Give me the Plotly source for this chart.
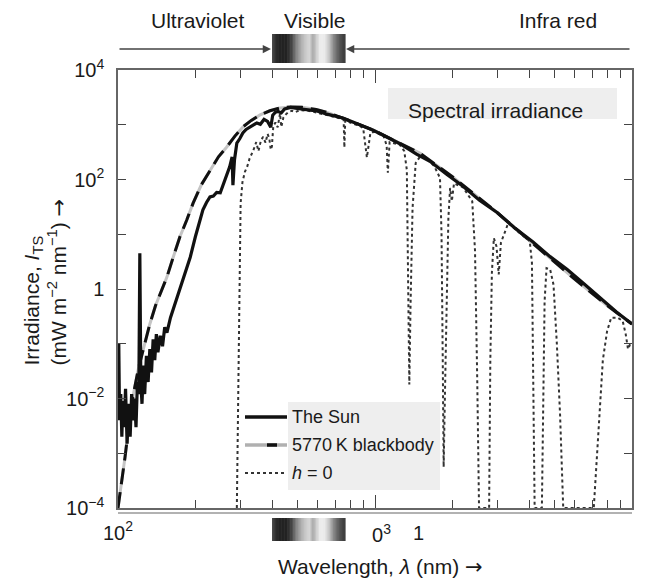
import plotly.graph_objects as go

# ---------------- data ----------------
sun_wavelength = [100, 100.7, 101.4, 102.5, 103.5, 104.5, 105.5, 107, 108.5, 110, 111.5, 113, 114.5,
                  116, 117.5, 119, 120.5, 121.6, 122.7, 124, 125.5, 127, 129, 131, 133, 135, 137, 139,
                  141, 143, 146, 149, 152, 155, 160, 167, 174, 182, 191, 200, 207, 214, 221, 228, 235,
                  242, 250, 258, 265, 272, 278, 280, 284, 290, 298, 306, 315, 325, 335, 347, 358, 370,
                  382, 393, 400, 410, 420, 432, 445, 455, 470, 490, 520, 560, 594, 650, 750, 850, 980,
                  1100, 1250, 1450, 1636, 1900, 2200, 2550, 2985, 3500, 4120, 4800, 5585, 6500, 7500,
                  8700, 10000]
sun_irradiance = [0.005, 0.1, 0.004, 0.012, 0.002, 0.009, 0.003, 0.015, 0.0015, 0.008, 0.002, 0.012,
                  0.004, 0.01, 0.003, 0.02, 0.012, 4.5, 0.02, 0.008, 0.04, 0.012, 0.06, 0.02, 0.08,
                  0.03, 0.12, 0.05, 0.15, 0.07, 0.14, 0.09, 0.2, 0.16, 0.3, 0.55, 0.96, 1.9, 3.8, 9,
                  17, 28, 38, 48, 50, 58, 57, 85, 111, 170, 258, 79, 230, 464, 560, 707, 820, 900,
                  1000, 1080, 1020, 1250, 1150, 900, 1500, 1700, 1750, 1650, 1950, 2020, 2080, 2000,
                  1950, 1850, 1780, 1560, 1330, 1060, 800, 610, 450, 290, 215, 125, 75, 42, 25, 13,
                  7.2, 3.9, 2.3, 1.25, 0.7, 0.38, 0.23]

bb_wavelength = [100, 103.6, 106.5, 110, 114.4, 120, 125, 133, 140, 147, 155, 164, 174, 185, 196, 211,
                 228, 246, 265, 285, 306, 330, 357, 390, 427, 470, 520, 590, 660, 750, 860, 1000,
                 1200, 1500, 2000, 2500, 3000, 4000, 5000, 6000, 8000, 10000]
bb_irradiance = [1e-4, 3.2e-4, 8.5e-4, 3e-3, 0.011, 0.035, 0.078, 0.23, 0.5, 0.9, 1.65, 3.8, 8.9, 18,
                 37, 80, 148, 260, 393, 620, 910, 1200, 1510, 1800, 2020, 2120, 2080, 1900, 1650,
                 1330, 1030, 770, 510, 300, 112, 48, 24.5, 7.6, 3.1, 1.5, 0.5, 0.23]

sea_wavelength = [290, 292, 294, 296, 298, 300, 305, 312, 318, 325, 336, 345, 352, 360, 367, 375, 382,
                  388, 393, 397, 402, 410, 418, 427, 432, 440, 450, 460, 475, 490, 510, 550, 600, 680,
                  740, 755, 760, 766, 800, 880, 900, 930, 960, 1000, 1080, 1110, 1122, 1140, 1250,
                  1300, 1330, 1345, 1360, 1375, 1400, 1440, 1500, 1600, 1700, 1790, 1815, 1835, 1850,
                  1870, 1900, 1930, 1960, 1990, 2030, 2200, 2390, 2450, 2500, 2540, 2780, 2810, 2850,
                  2900, 2970, 3030, 3090, 3300, 3700, 4000, 4080, 4130, 4180, 4460, 4510, 4570, 4650,
                  4800, 4950, 5100, 5250, 5400, 7100, 7400, 7700, 8000, 8300, 8800, 9200, 9450, 9650,
                  9850, 10000]
sea_irradiance = [1e-4, 1e-3, 0.03, 0.5, 8, 37, 90, 140, 170, 240, 340, 480, 330, 520, 600, 470, 680,
                  560, 350, 400, 950, 1100, 900, 1600, 910, 1350, 1550, 1700, 1800, 1700, 1850, 1800,
                  1650, 1420, 1270, 1250, 385, 1200, 1100, 930, 850, 252, 720, 740, 620, 420, 133, 480,
                  430, 330, 150, 2, 0.018, 0.5, 30, 200, 265, 235, 175, 107, 10, 0.05, 5.6e-4, 0.01,
                  1, 20, 70, 40, 85, 72, 40, 5, 0.02, 1e-4, 1e-4, 0.05, 2, 8.5, 6, 1.85, 7, 16, 10,
                  7.5, 3, 0.05, 1e-4, 1e-4, 0.02, 0.6, 2.4, 2.3, 1.2, 0.1, 0.005, 1e-4, 1e-4, 0.003,
                  0.05, 0.17, 0.3, 0.3, 0.26, 0.15, 0.08, 0.1, 0.1]

series_names = ["The Sun", "5770\u2009K blackbody", "<i>h</i> = 0"]

x_tick_values = [100, 1000, 10000]
x_tick_labels = ["10<sup>2</sup>", "", "10<sup>4</sup>"]
x_minor_values = [200, 300, 400, 500, 600, 700, 800, 900, 2000, 3000, 4000, 5000, 6000, 7000, 8000, 9000]
x_stray_labels = ["0<sup>3</sup>", "1"]

y_tick_values = [1e-4, 1e-3, 1e-2, 1e-1, 1, 10, 100, 1000, 10000]
y_tick_labels = ["10<sup>\u22124</sup>", "", "10<sup>\u22122</sup>", "", "1", "", "10<sup>2</sup>", "", "10<sup>4</sup>"]

region_labels = ["Ultraviolet", "Visible", "Infra red"]
panel_label = "Spectral irradiance"
ARROW = "<span style='font-family:DejaVu Sans'>\u2192</span>"
x_title = "Wavelength, <i>\u03bb</i> (nm) " + ARROW
y_title = ("Irradiance, <i>I</i><sub>TS</sub><br>(mW m<sup>\u22122</sup> nm<sup>\u22121</sup>) " + ARROW)

# ---------------- layout helpers (page pixel coordinates) ----------------
PAGE_OFF = 8                 # default body margin of the html page
PAGE_W, PAGE_H = 645, 580
L, R, T, B = 118, 632, 70, 508   # plot frame in page pixels
FIG_W, FIG_H = PAGE_W - PAGE_OFF, PAGE_H - PAGE_OFF


def PX(px):
    return (px - L) / (R - L)


def PY(py):
    return (B - py) / (B - T)


FONT = "Liberation Sans, Arial, Helvetica, sans-serif"
TXT = "#1a1a1a"

fig = go.Figure()

fig.add_trace(go.Scatter(x=bb_wavelength, y=bb_irradiance, mode="lines", name=series_names[1],
                         line=dict(color="#c4c4c4", width=3), showlegend=False, hoverinfo="skip"))
fig.add_trace(go.Scatter(x=bb_wavelength, y=bb_irradiance, mode="lines", name=series_names[1],
                         line=dict(color="#111111", width=3, dash="16px,8px"), showlegend=False))
fig.add_trace(go.Scatter(x=sea_wavelength, y=sea_irradiance, mode="lines", name=series_names[2],
                         line=dict(color="#333333", width=2, dash="dot"), showlegend=False))
fig.add_trace(go.Scatter(x=sun_wavelength, y=sun_irradiance, mode="lines", name=series_names[0],
                         line=dict(color="#111111", width=3.2), showlegend=False))

shapes = []
annotations = []

# visible-spectrum grey bars (top and bottom)
grad_stops = [(0.00, 80), (0.05, 45), (0.10, 35), (0.20, 35), (0.27, 70), (0.33, 130), (0.40, 175),
              (0.47, 205), (0.52, 215), (0.56, 165), (0.60, 200), (0.66, 238), (0.72, 235),
              (0.78, 200), (0.84, 140), (0.90, 100), (0.96, 70), (1.00, 60)]


def gray_at(f):
    for (f0, g0), (f1, g1) in zip(grad_stops, grad_stops[1:]):
        if f0 <= f <= f1:
            t = (f - f0) / (f1 - f0) if f1 > f0 else 0
            return g0 + t * (g1 - g0)
    return grad_stops[-1][1]


NSL = 48
for (ytop, ybot) in [(34, 63), (518, 541)]:
    for i in range(NSL):
        f = (i + 0.5) / NSL
        g = int(round(gray_at(f)))
        x0 = 272 + (345 - 272) * i / NSL
        x1 = 272 + (345 - 272) * (i + 1) / NSL + 0.6
        shapes.append(dict(type="rect", xref="paper", yref="paper", x0=PX(x0), x1=PX(x1),
                           y0=PY(ybot), y1=PY(ytop), line=dict(width=0),
                           fillcolor=f"rgb({g},{g},{g})", layer="above"))

# second bottom rule
shapes.append(dict(type="line", xref="paper", yref="paper", x0=0, x1=1, y0=PY(513), y1=PY(513),
                   line=dict(color="#999999", width=1.3)))

# spectral irradiance box
shapes.append(dict(type="rect", xref="paper", yref="paper", x0=PX(388), x1=PX(617), y0=PY(119), y1=PY(88),
                   line=dict(width=0), fillcolor="#eeeeee", layer="below"))
annotations.append(dict(text=panel_label, xref="paper", yref="paper", x=PX(406), y=PY(110),
                        xanchor="left", yanchor="middle", showarrow=False,
                        font=dict(size=21, color=TXT, family=FONT)))

# legend (drawn by hand to match the reference)
shapes.append(dict(type="rect", xref="paper", yref="paper", x0=PX(288), x1=PX(440), y0=PY(490), y1=PY(402),
                   line=dict(width=0), fillcolor="#eeeeee", layer="above"))
leg_y = [417, 445, 473]
shapes.append(dict(type="line", xref="paper", yref="paper", x0=PX(245), x1=PX(287), y0=PY(leg_y[0]),
                   y1=PY(leg_y[0]), line=dict(color="#111111", width=3.5), layer="above"))
shapes.append(dict(type="line", xref="paper", yref="paper", x0=PX(245), x1=PX(287), y0=PY(leg_y[1]),
                   y1=PY(leg_y[1]), line=dict(color="#b0b0b0", width=3.5), layer="above"))
shapes.append(dict(type="line", xref="paper", yref="paper", x0=PX(267), x1=PX(277), y0=PY(leg_y[1]),
                   y1=PY(leg_y[1]), line=dict(color="#111111", width=3.5), layer="above"))
shapes.append(dict(type="line", xref="paper", yref="paper", x0=PX(245), x1=PX(287), y0=PY(leg_y[2]),
                   y1=PY(leg_y[2]), line=dict(color="#333333", width=2, dash="dot"), layer="above"))
for name, yy in zip(series_names, leg_y):
    annotations.append(dict(text=name, xref="paper", yref="paper", x=PX(290), y=PY(yy),
                            xanchor="left", yanchor="middle", showarrow=False,
                            font=dict(size=18, color=TXT, family=FONT)))

# region labels and arrows
for txt, cx in zip(region_labels, [198, 314, 558]):
    annotations.append(dict(text=txt, xref="paper", yref="paper", x=PX(cx), y=PY(20),
                            xanchor="center", yanchor="middle", showarrow=False,
                            font=dict(size=21, color=TXT, family=FONT)))
annotations.append(dict(text="", xref="paper", yref="paper", x=PX(271), y=PY(49), axref="pixel", ayref="pixel",
                        ax=-(271 - 118), ay=0, showarrow=True, arrowhead=2, arrowsize=1.1, arrowwidth=1.5,
                        arrowcolor="#444444", standoff=0, startstandoff=0))
annotations.append(dict(text="", xref="paper", yref="paper", x=PX(346), y=PY(49), axref="pixel", ayref="pixel",
                        ax=(631 - 346), ay=0, showarrow=True, arrowhead=2, arrowsize=1.1, arrowwidth=1.5,
                        arrowcolor="#444444", standoff=0, startstandoff=0))

# stray bottom labels seen in the reference
for txt, cx in zip(x_stray_labels, [381, 418]):
    annotations.append(dict(text=txt, xref="paper", yref="paper", x=PX(cx), y=PY(533),
                            xanchor="center", yanchor="middle", showarrow=False,
                            font=dict(size=20, color=TXT, family=FONT)))

# axis titles
annotations.append(dict(text=x_title, xref="paper", yref="paper", x=PX(380), y=PY(567),
                        xanchor="center", yanchor="middle", showarrow=False,
                        font=dict(size=21, color=TXT, family=FONT)))
annotations.append(dict(text=y_title, xref="paper", yref="paper", x=PX(45), y=PY(368),
                        xanchor="center", yanchor="bottom", showarrow=False, textangle=-90, align="left",
                        font=dict(size=21, color=TXT, family=FONT)))

fig.update_layout(
    width=FIG_W, height=FIG_H,
    margin=dict(l=L - PAGE_OFF, r=PAGE_W - R, t=T - PAGE_OFF, b=PAGE_H - B),
    paper_bgcolor="white", plot_bgcolor="white",
    showlegend=False,
    shapes=shapes, annotations=annotations,
    font=dict(family=FONT, color=TXT, size=20),
)
fig.update_xaxes(type="log", range=[2, 4], showgrid=False, zeroline=False,
                 showline=True, linecolor="#666666", linewidth=1.5, mirror="ticks",
                 ticks="inside", ticklen=13, tickwidth=1.3, tickcolor="#444444",
                 tickvals=x_tick_values, ticktext=x_tick_labels, ticklabelstandoff=6,
                 tickfont=dict(size=20, color=TXT, family=FONT),
                 minor=dict(tickvals=x_minor_values, ticks="inside", ticklen=8, tickwidth=1.3,
                            tickcolor="#444444", showgrid=False))
fig.update_yaxes(type="log", range=[-4, 4], showgrid=False, zeroline=False,
                 showline=True, linecolor="#666666", linewidth=1.5, mirror="ticks",
                 ticks="inside", ticklen=8, tickwidth=1.3, tickcolor="#444444",
                 tickvals=y_tick_values, ticktext=y_tick_labels, ticklabelstandoff=8,
                 tickfont=dict(size=20, color=TXT, family=FONT))

fig.write_html("out.html")
